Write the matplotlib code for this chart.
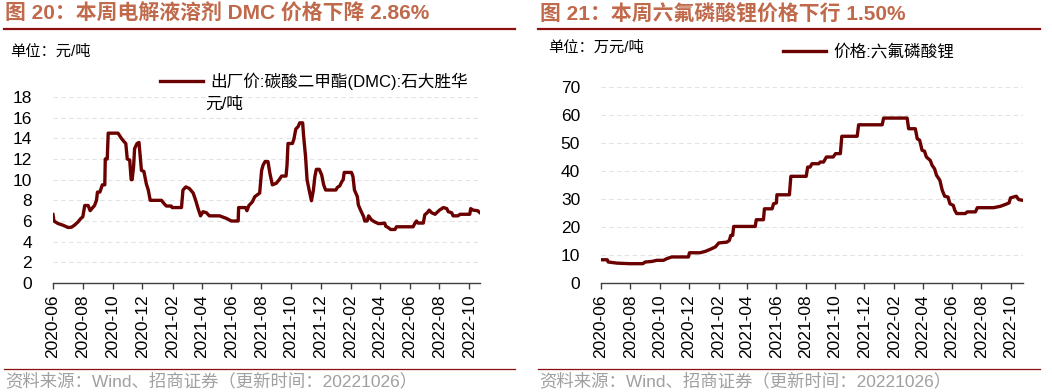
import pandas as pd
import numpy as np
import matplotlib
matplotlib.use('Agg')
import matplotlib.pyplot as plt
import matplotlib.dates as mdates
from matplotlib.lines import Line2D

plt.rcParams['font.family'] = ['Liberation Sans', 'Noto Sans CJK SC']

# Data: days since 2020-06-01 and price
start = pd.Timestamp('2020-06-01')

dmc_days = [0, 2, 10, 20, 31, 38, 44, 51, 57, 61, 65, 72, 76, 85, 89, 91, 96, 101, 106, 107,
            111, 113, 133, 140, 145, 149, 152, 157, 160, 162, 165, 167, 172, 176, 181, 186, 191,
            195, 199, 222, 227, 232, 242, 244, 263, 266, 272, 279, 287, 292, 297, 302, 307, 314,
            320, 341, 355, 365, 379, 380, 394, 397, 401, 408, 413, 420, 423, 427, 430, 434, 440,
            444, 449, 454, 457, 463, 468, 477, 479, 481, 490, 493, 497, 502, 505, 511, 513, 517,
            520, 524, 529, 533, 536, 539, 545, 550, 554, 558, 579, 582, 587, 591, 594, 596, 611,
            614, 617, 623, 625, 631, 636, 638, 643, 646, 652, 659, 666, 672, 679, 681, 686, 691,
            700, 703, 737, 741, 744, 747, 758, 761, 766, 770, 775, 782, 791, 799, 806, 809, 816,
            819, 829, 833, 853, 855, 860, 869, 874]
dmc_price = [6.63, 6.0, 5.76, 5.6, 5.37, 5.4, 5.6, 5.9, 6.25, 6.4, 7.5, 7.5, 7.0, 7.5, 8.0, 8.8,
             8.8, 9.5, 9.5, 12.0, 12.0, 14.5, 14.5, 14.0, 13.7, 13.5, 12.0, 11.9, 10.0, 10.0, 11.3,
             13.0, 13.5, 13.6, 10.9, 10.8, 9.6, 9.0, 8.0, 8.0, 7.7, 7.45, 7.45, 7.3, 7.3, 9.0, 9.3,
             9.15, 8.7, 8.0, 7.2, 6.5, 6.9, 6.8, 6.5, 6.5, 6.25, 6.0, 6.0, 7.3, 7.3, 7.0, 7.5,
             7.85, 8.35, 8.6, 8.7, 10.9, 11.4, 11.75, 11.75, 10.6, 9.5, 9.6, 9.65, 10.0, 10.35,
             10.35, 11.4, 13.5, 13.5, 13.9, 14.9, 15.15, 15.5, 15.5, 14.2, 12.2, 10.0, 9.06, 7.96,
             9.0, 10.3, 11.0, 11.0, 10.45, 9.5, 9.0, 9.0, 9.25, 9.4, 9.8, 10.0, 10.7, 10.7, 10.3,
             9.0, 8.35, 7.55, 6.9, 6.4, 6.0, 6.0, 6.5, 6.1, 5.9, 5.75, 5.75, 5.8, 5.5, 5.37, 5.18,
             5.18, 5.44, 5.44, 5.8, 6.0, 5.8, 5.8, 6.6, 6.8, 7.05, 6.8, 6.65, 7.05, 7.3, 7.2, 6.9,
             6.8, 6.5, 6.5, 6.65, 6.65, 7.2, 7.05, 7.0, 6.8]

lipf6_days = [0, 13, 15, 33, 60, 87, 92, 106, 116, 130, 137, 147, 182, 184, 206, 217, 227, 238,
              245, 262, 267, 270, 274, 276, 321, 323, 338, 340, 356, 359, 365, 366, 392, 395, 427,
              430, 435, 439, 453, 456, 463, 469, 483, 488, 498, 501, 533, 536, 585, 588, 637, 640,
              654, 658, 663, 668, 673, 677, 685, 689, 694, 698, 705, 710, 715, 722, 726, 733, 736,
              740, 758, 762, 779, 783, 817, 831, 842, 849, 852, 858, 864, 869, 878]
lipf6_price = [8.3, 8.3, 7.5, 7.1, 6.9, 6.9, 7.5, 7.7, 8.1, 8.1, 8.7, 9.3, 9.3, 10.8, 10.8, 11.3,
               12.0, 12.9, 14.3, 14.6, 15.2, 17.0, 17.0, 20.2, 20.2, 22.6, 22.6, 26.5, 26.5, 28.3,
               28.6, 31.5, 31.5, 38.1, 38.1, 41.4, 41.4, 42.6, 42.6, 43.2, 43.2, 45.0, 45.0, 46.2,
               46.2, 52.4, 52.4, 56.5, 56.5, 58.9, 58.9, 55.1, 55.1, 51.5, 51.0, 47.4, 47.1, 45.0,
               43.8, 42.0, 40.8, 38.5, 36.7, 33.1, 31.0, 30.7, 28.3, 27.7, 26.0, 24.8, 24.8, 25.4,
               25.4, 26.9, 26.9, 27.4, 28.1, 28.6, 30.4, 30.7, 31.0, 29.8, 29.5]

dmc = pd.Series(dmc_price, index=start + pd.to_timedelta(dmc_days, unit='D'))
lipf6 = pd.Series(lipf6_price, index=start + pd.to_timedelta(lipf6_days, unit='D'))

title_color = '#C0694B'
rule_color = '#8B1010'
line_color = '#6B0000'

W, H = 1052, 392
fig = plt.figure(figsize=(W / 100, H / 100), dpi=100)

def fx(px):
    return px / W

def fy(py):
    return 1 - py / H

panels = [
    dict(series=dmc, rect=[53, 97, 480, 283], ylim=(0, 18), step=2,
         title='图 20：本周电解液溶剂 DMC 价格下降 2.86%', tx=5, rule=(4, 515),
         unit='单位：元/吨', ux=10, uy=52,
         label='出厂价:碳酸二甲酯(DMC):石大胜华', lx=160, ly=81),
    dict(series=lipf6, rect=[601, 87, 1023, 283], ylim=(0, 70), step=10,
         title='图 21：本周六氟磷酸锂价格下行 1.50%', tx=540, rule=(538, 1040),
         unit='单位：万元/吨', ux=548, uy=48,
         label='价格:六氟磷酸锂', lx=783, ly=52),
]

for p in panels:
    x0, y0, x1, y1 = p['rect']
    ax = fig.add_axes([fx(x0), fy(y1), fx(x1 - x0), (y1 - y0) / H])
    s = p['series']
    ax.plot(s.index, s.values, color=line_color, linewidth=2.4, label=p['label'])
    ax.set_xlim(s.index[0], s.index[-1])
    ax.set_ylim(*p['ylim'])
    ax.set_yticks(np.arange(p['ylim'][0], p['ylim'][1] + 1, p['step']))
    ax.grid(axis='y', color='#E3E3E3', linestyle=(0, (4, 3)), linewidth=0.8)
    ax.set_axisbelow(True)
    for side in ['top', 'right', 'left']:
        ax.spines[side].set_visible(False)
    ax.spines['bottom'].set_color('#404040')
    ax.spines['bottom'].set_linewidth(1.0)
    ax.xaxis.set_major_locator(mdates.MonthLocator(bymonth=[2, 4, 6, 8, 10, 12]))
    ax.xaxis.set_major_formatter(mdates.DateFormatter('%Y-%m'))
    ax.tick_params(axis='x', direction='out', length=4, width=1, color='#404040',
                   labelsize=12.5, pad=4, labelrotation=90)
    ax.tick_params(axis='y', length=0, labelsize=12.5, pad=15)

    # title, rules, unit, source
    fig.text(fx(p['tx']), fy(14), p['title'], fontsize=15, fontweight='bold',
             color=title_color, va='center', ha='left')
    fig.add_artist(Line2D([fx(p['rule'][0]), fx(p['rule'][1])], [fy(29), fy(29)],
                          color=rule_color, linewidth=1.6))
    fig.add_artist(Line2D([fx(p['rule'][0]), fx(p['rule'][1])], [fy(369), fy(369)],
                          color=rule_color, linewidth=0.9))
    fig.text(fx(p['ux']), fy(p['uy']), p['unit'], fontsize=11, va='center', ha='left')
    fig.text(fx(p['rule'][0] + 1), fy(381), '资料来源：Wind、招商证券（更新时间：20221026）',
             fontsize=12.5, color='#A0A0A0', va='center', ha='left')

    ax.legend(loc='center left', bbox_to_anchor=(fx(p['lx']), fy(p['ly'])),
              bbox_transform=fig.transFigure, frameon=False, fontsize=12,
              handlelength=2.6, handletextpad=0.4, borderpad=0, borderaxespad=0)

# wrapped second line of the left legend label
fig.text(fx(205), fy(104), '元/吨', fontsize=12, va='center', ha='left')

fig.savefig('out.png', dpi=100)
